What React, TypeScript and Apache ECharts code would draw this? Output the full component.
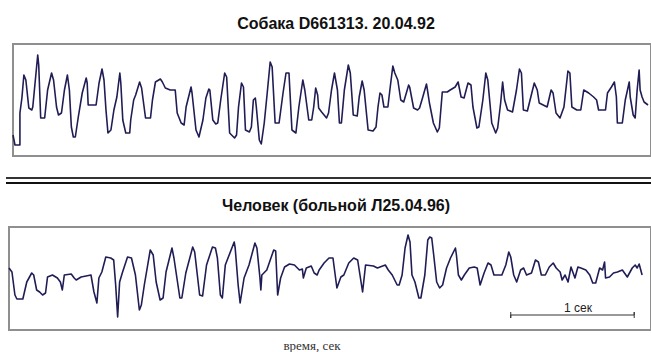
import React, { useEffect, useRef } from "react";
import * as echarts from "echarts";

// EEG traces, sampled at 125 Hz (1 sample = 8 ms); amplitude in arbitrary units
const dogT = [0,2,7,7,9,11,13,16,19,20,25,26,28,32,35,39,41,44,46,49,52,55,57,59,61,63,66,70,74,75,76,84,87,90,92,94,96,99,102,105,108,109,111,114,118,119,122,124,128,130,134,139,141,144,149,151,154,159,164,166,170,173,175,180,181,185,188,192,195,198,199,202,205,207,210,214,216,219,224,226,228,231,233,235,239,241,243,245,246,249,251,254,257,260,262,265,269,273,276,279,282,286,289,293,295,299,302,304,306,308,309,312,317,319,322,325,328,330,332,335,339,341,344,348,350,353,355,359,364,367,369,371,373,375,379,381,384,386,389,392,395,400,401,405,409,411,414,418,419,421,425,429,431,434,439,442,447,450,453,456,460,463,465,469,471,475,478,480,484,488,490,493,495,497,500,505,509,512,514,516,520,527,530,532,540,544,546,549,553,557,561,563,565,570,574,577,582,587,590,592,599,601,605,608,610,611,616,619,623,624,627,629,631,633,634,636,638,642];
const dogV = [-35,-45,-45,-13,2,25,20,-8,-10,-7,45,35,-18,-18,10,27,20,-7,-15,-13,10,25,10,-27,-37,-37,-17,7,22,17,-5,-5,17,31,20,-10,-33,-30,-10,3,27,17,-20,-33,-33,-20,0,5,18,12,-18,-18,0,18,21,18,12,10,10,-13,-23,-25,-7,13,7,-30,-37,-20,2,11,10,-20,-24,-23,0,27,23,-33,-38,-35,-7,17,13,-30,-32,-27,0,2,-7,-40,-44,-23,7,38,33,-23,-23,7,27,27,-30,-33,-7,20,10,-20,-20,-7,12,5,-8,-12,-18,-13,10,27,10,-23,-23,10,35,27,-15,-16,3,19,10,-30,-31,-27,-7,7,5,-7,-7,10,34,27,20,0,-2,15,13,-8,-10,-8,2,16,10,-3,-23,-32,-28,8,8,10,13,18,3,2,17,15,-7,-28,-27,0,27,20,-23,-33,-28,-3,18,0,-10,-12,10,31,27,-10,-11,17,10,-3,-7,10,7,-13,-18,-7,29,27,-7,-10,-10,10,7,3,0,-10,-10,7,13,18,3,-23,-23,0,18,3,-15,-18,10,30,10,3,-2,-5];

const humanT = [0,3,6,8,14,18,23,25,28,31,34,37,39,44,49,52,54,56,63,66,68,73,78,83,86,89,91,94,98,103,106,108,110,112,115,120,124,128,132,134,137,143,146,149,153,156,159,165,167,173,175,179,186,188,193,196,200,206,209,211,214,216,219,228,229,232,234,238,243,249,251,254,255,256,261,268,270,272,275,279,284,289,294,297,298,301,306,309,312,314,319,324,328,332,336,339,344,349,353,358,361,369,373,381,384,388,393,395,398,401,404,406,408,411,415,417,421,424,426,428,430,433,436,439,443,447,452,453,455,458,461,466,471,474,477,481,485,488,491,499,503,506,508,511,514,518,521,524,529,533,536,539,543,547,551,554,558,560,563,566,569,573,576,579,584,588,591,594,598,601,603,604,608,612,616,621,626,631,634,636,638,641];
const humanV = [10,6,-17,-21,-21,-4,5,3,-12,-14,-17,-15,1,3,0,-4,-12,3,4,0,-2,1,2,3,-14,-25,0,6,21,20,18,-7,-39,-4,6,21,20,3,-32,-27,-7,28,23,-4,-22,-20,6,30,20,-20,-20,5,31,26,-17,-18,13,31,30,20,-17,-20,13,36,30,-7,-25,0,13,35,30,1,-12,3,8,28,27,-17,0,11,14,13,8,9,0,10,12,5,3,8,15,20,20,-10,1,3,15,20,18,-14,13,12,10,13,8,3,-7,-7,3,30,43,36,3,-4,-20,-20,3,38,41,40,23,-4,-10,-7,10,20,30,23,3,-2,3,10,11,10,-7,5,15,13,3,3,13,26,21,3,-4,8,10,3,5,18,16,3,3,11,15,10,6,-2,3,-4,11,0,11,10,8,3,-5,-5,10,8,16,0,1,5,6,8,1,10,13,10,14,3];

// 1-second calibration bar in the human trace (samples)
const samplesPerSecond = 125;
const scaleBarStart = 508;
const scaleBarLevel = -37;
const scaleTick = 3;

const dogTitle = "Собака D661313. 20.04.92";
const humanTitle = "Человек (больной Л25.04.96)";
const scaleLabel = "1 сек";
const axisLabel = "время, сек";

const zip = (t: number[], v: number[]) => t.map((x, i) => [x, v[i]]);

export default function App() {
  const ref = useRef<HTMLDivElement>(null);
  useEffect(() => {
    if (!ref.current) return;
    const chart = echarts.init(ref.current, null, { renderer: "svg" });
    const s0 = scaleBarStart;
    const s1 = scaleBarStart + samplesPerSecond;
    const L = scaleBarLevel;
    const traceColor = "#201d55";
    chart.setOption({
      animation: false,
      grid: [
        { left: 13, top: 44, width: 645, height: 112, show: true, borderColor: "#8f8f8f", borderWidth: 2, backgroundColor: "#fff" },
        { left: 9, top: 227, width: 650, height: 103, show: true, borderColor: "#8f8f8f", borderWidth: 2, backgroundColor: "#fff" },
      ],
      xAxis: [
        { type: "value", gridIndex: 0, min: 0, max: 645, show: false },
        { type: "value", gridIndex: 1, min: 0, max: 650, show: false },
      ],
      yAxis: [
        { type: "value", gridIndex: 0, min: -56, max: 56, show: false },
        { type: "value", gridIndex: 1, min: -52, max: 51, show: false },
      ],
      series: [
        {
          type: "line", xAxisIndex: 0, yAxisIndex: 0, data: zip(dogT, dogV),
          showSymbol: false, lineStyle: { color: traceColor, width: 1.6, join: "round" }, silent: true,
        },
        {
          type: "line", xAxisIndex: 1, yAxisIndex: 1, data: zip(humanT, humanV),
          showSymbol: false, lineStyle: { color: traceColor, width: 1.6, join: "round" }, silent: true,
        },
        {
          type: "line", xAxisIndex: 1, yAxisIndex: 1,
          data: [[s0, L + scaleTick], [s0, L - scaleTick], [s0, L], [s1, L], [s1, L + scaleTick], [s1, L - scaleTick]],
          showSymbol: false, lineStyle: { color: "#333", width: 1 }, silent: true,
        },
      ],
      graphic: [
        { type: "text", x: 336, y: 23, style: { text: dogTitle, font: "bold 16px 'Liberation Sans', Arial, sans-serif", fill: "#111", align: "center", verticalAlign: "middle" } },
        { type: "line", shape: { x1: 6, y1: 178, x2: 651, y2: 178 }, style: { stroke: "#333", lineWidth: 2 } },
        { type: "line", shape: { x1: 6, y1: 183, x2: 651, y2: 183 }, style: { stroke: "#111", lineWidth: 2 } },
        { type: "text", x: 336, y: 205, style: { text: humanTitle, font: "bold 16px 'Liberation Sans', Arial, sans-serif", fill: "#111", align: "center", verticalAlign: "middle" } },
        { type: "text", x: 578, y: 308, style: { text: scaleLabel, font: "12px 'Liberation Sans', Arial, sans-serif", fill: "#222", align: "center", verticalAlign: "middle" } },
        { type: "text", x: 312, y: 345, style: { text: axisLabel, font: "13px 'Liberation Serif', serif", fill: "#333", align: "center", verticalAlign: "middle" } },
      ],
    });
    return () => chart.dispose();
  }, []);
  return <div ref={ref} style={{ position: "absolute", left: 0, top: 0, width: 651, height: 352, background: "#fff" }} />;
}
